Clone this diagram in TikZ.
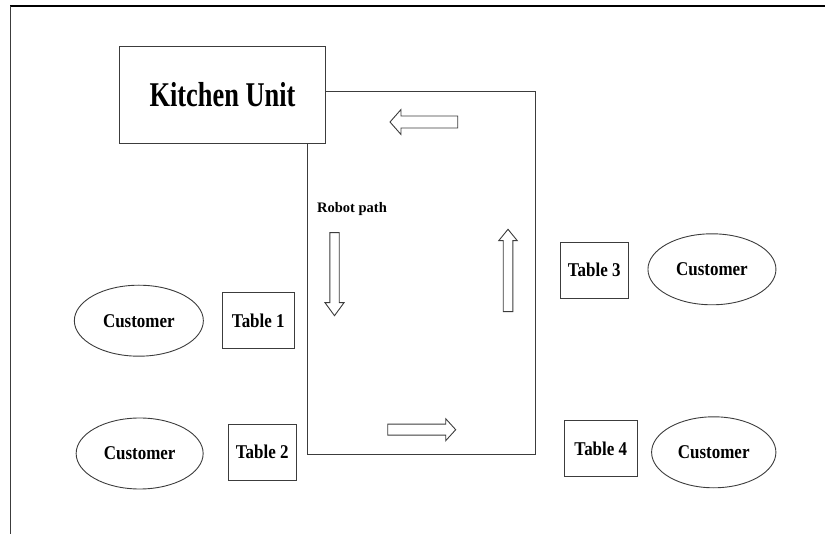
\documentclass[tikz,border=0pt]{standalone}
\usepackage{fontspec}
\setmainfont{Liberation Serif}
\newfontfamily\narrowFont{Liberation Serif}[FakeStretch=0.87]
\newfontfamily\kitchenFont{Liberation Serif}[FakeStretch=0.76]
\usetikzlibrary{positioning,shapes.geometric}
\tikzstyle{floorPlan} = [x = 1pt, y = -1pt]
\definecolor{lineColor}{RGB}{60,60,60}
\tikzstyle{kitchenStyle} = [draw=lineColor, line width=0.9pt, minimum width=206pt, minimum height=97pt, inner sep=0pt, font=\kitchenFont\bfseries\fontsize{34.7}{40}\selectfont]
\tikzstyle{tableStyle} = [draw=lineColor, line width=0.9pt, minimum height=56pt, inner sep=0pt, font=\narrowFont\bfseries\fontsize{19.5}{22}\selectfont]
\tikzstyle{customerStyle} = [ellipse, draw=lineColor, line width=0.9pt, minimum width=127pt, minimum height=71pt, inner sep=0pt, font=\narrowFont\bfseries\fontsize{19.5}{22}\selectfont]
\tikzstyle{pathLine} = [color=lineColor, line width=0.9pt]
\tikzstyle{arrowStyle} = [draw=lineColor, fill=white, line width=0.9pt]
\newcommand{\blockArrow}[7]{\filldraw [arrowStyle, shift={(#1,#2)}, rotate=#3] (0,-#5) -- (#4-#7,-#5) -- (#4-#7,-#6) -- (#4,0) -- (#4-#7,#6) -- (#4-#7,#5) -- (0,#5) -- cycle;}

\begin{document}
\begin{tikzpicture}[floorPlan]
  \useasboundingbox (0,0) rectangle (825,534);
  \draw [black, line width=1.3pt] (10,6) -- (825,6);
  \draw [lineColor, line width=0.9pt] (10.5,6) -- (10.5,534);

  \node [kitchenStyle] (kitchen) at (222.5,95) {Kitchen Unit};

  \coordinate (pathNE) at (535.5,91);
  \coordinate (pathSW) at (307.5,454);
  \draw [pathLine] (kitchen.east |- pathNE) -- (pathNE) -- (pathNE |- pathSW) -- (pathSW) -- (pathSW |- kitchen.south);

  \node [font=\bfseries\fontsize{14.5}{17}\selectfont] (robotLabel) at (352,209.5) {Robot path};

  \blockArrow{457.7}{122}{180}{67.7}{6}{12.5}{11}
  \blockArrow{334.5}{232.7}{270}{83}{4.7}{9.5}{13}
  \blockArrow{508}{311.7}{90}{82.4}{4.8}{9.3}{11.4}
  \blockArrow{387.7}{429.7}{0}{68}{5.5}{11}{10}

  \node [tableStyle, minimum width=72.7pt] (tableOne) at (258.3,320.7) {Table 1};
  \node [tableStyle, minimum width=68.3pt] (tableTwo) at (262.2,452.3) {Table 2};
  \node [tableStyle, minimum width=68.3pt] (tableThree) at (594.2,270.3) {Table 3};
  \node [tableStyle, minimum width=73pt] (tableFour) at (600.8,448.5) {Table 4};

  \node [customerStyle, minimum width=129pt, left=17.7pt of tableOne] (customerOne) {Customer};
  \node [customerStyle, left=24pt of tableTwo, yshift=-1.2pt] (customerTwo) {Customer};
  \node [customerStyle, minimum width=128pt, right=18.7pt of tableThree, yshift=1pt] (customerThree) {Customer};
  \node [customerStyle, minimum width=124.3pt, right=13.4pt of tableFour, yshift=-3.8pt] (customerFour) {Customer};
\end{tikzpicture}
\end{document}
